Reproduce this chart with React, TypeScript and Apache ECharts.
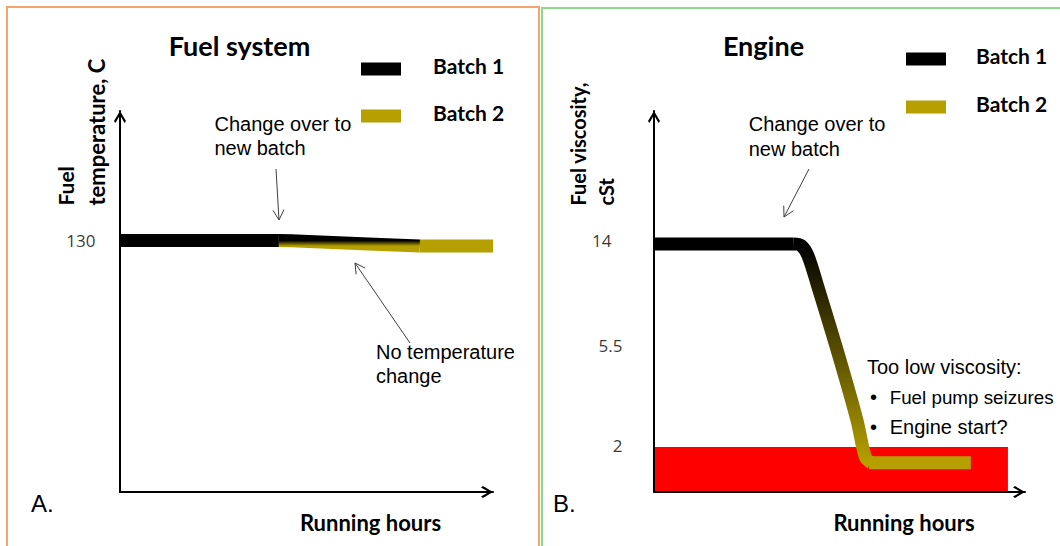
import React, { useEffect, useRef } from "react";
import * as echarts from "echarts";

// ---------- data ----------
// Panel A: fuel temperature (C) vs running hours (schematic 0..100)
const fuelTempTicks = [130];
const fuelTempBatch1 = [[0, 130], [42.6, 130]];
const fuelTempChange = [[42.6, 130], [49, 129.7], [65, 128.3], [80.4, 127.2]];
const fuelTempBatch2 = [[80.4, 127.2], [100, 127.2]];

// Panel B: fuel viscosity (cSt) vs running hours (schematic 0..100)
const viscosityTicks = [14, 5.5, 2];
const viscosityBatch1 = [[0, 14], [37.5, 14]];
const viscosityChange = [
  [37.5, 14], [39.6, 13.8], [41.5, 12.5], [44.2, 9.25], [49.6, 4.92],
  [54.7, 2.59], [56.1, 2.05], [57.1, 1.8], [58.5, 1.72],
];
const viscosityBatch2 = [[57.9, 1.72], [85.4, 1.72]];
const lowViscosityLimit = 2;
const lowViscosityEndHour = 95.4;

const legendNames = ["Batch 1", "Batch 2"];

// ---------- styles ----------
const BLACK = "#000000";
const GOLD = "#B5A000";
const BOLD_FONT = "Lato";
const REG_FONT = "Liberation Sans";
const TICK_FONT = "Open Sans";
const CHEVRON = "path://M50,0 L100,84 L88,100 L50,34 L12,100 L0,84 Z";

const axisBase = {
  axisLine: {
    show: true,
    onZero: false,
    symbol: ["none", CHEVRON],
    symbolSize: [13, 12],
    symbolOffset: [0, -6],
    lineStyle: { color: "#000", width: 2 },
  },
  axisTick: { show: false },
  axisLabel: { show: false },
  splitLine: { show: false },
  z: 10,
};

function txt(text: string, x: number, y: number, o: any = {}) {
  return {
    type: "text",
    x,
    y,
    rotation: o.rotation || 0,
    silent: true,
    style: {
      text,
      fill: "#000",
      fontFamily: o.bold ? BOLD_FONT : REG_FONT,
      fontWeight: o.bold ? "bold" : "normal",
      fontSize: o.size || 20,
      align: o.align || "left",
      verticalAlign: "middle",
      textAlign: o.align || "left",
      textVerticalAlign: "middle",
    },
  };
}

function arrow(x1: number, y1: number, x2: number, y2: number) {
  const dx = x2 - x1;
  const dy = y2 - y1;
  const L = Math.sqrt(dx * dx + dy * dy);
  const ux = dx / L;
  const uy = dy / L;
  const px = -uy;
  const py = ux;
  const h = 10;
  const w = 5.5;
  const stroke = { stroke: "#404040", lineWidth: 1, fill: "none" };
  return [
    { type: "line", silent: true, shape: { x1, y1, x2, y2 }, style: stroke },
    {
      type: "polyline",
      silent: true,
      shape: {
        points: [
          [x2 - h * ux + w * px, y2 - h * uy + w * py],
          [x2, y2],
          [x2 - h * ux - w * px, y2 - h * uy - w * py],
        ],
      },
      style: stroke,
    },
  ];
}

const vGradient = () =>
  new echarts.graphic.LinearGradient(0, 0, 0, 1, [
    { offset: 0, color: BLACK },
    { offset: 1, color: GOLD },
  ]);

function lineSeries(name: string, data: number[][], idx: number, color: any, smooth: any = false) {
  return {
    type: "line",
    name,
    xAxisIndex: idx,
    yAxisIndex: idx,
    data,
    color,
    showSymbol: false,
    symbol: "none",
    smooth,
    clip: false,
    z: 4,
    silent: true,
    lineStyle: { color, width: 13, cap: "butt", join: "round" },
  };
}

export default function App() {
  const ref = useRef<HTMLDivElement>(null);

  useEffect(() => {
    if (!ref.current) return;
    const chart = echarts.init(ref.current, undefined, { renderer: "svg" });

    const legendBase = (left: number, top: number, gap: number, textPad: number) => ({
      data: legendNames.map((n) => ({ name: n, icon: "rect" })),
      orient: "vertical",
      left,
      top,
      padding: 0,
      itemWidth: 40,
      itemHeight: 13,
      itemGap: gap,
      selectedMode: false,
      formatter: (name: string) => "{n|" + name + "}",
      textStyle: {
        fontFamily: BOLD_FONT,
        fontWeight: "bold",
        fontSize: 21,
        color: "#000",
        padding: [0, 0, 0, textPad],
        rich: {
          n: {
            fontFamily: BOLD_FONT,
            fontWeight: "bold",
            fontSize: 21,
            lineHeight: 20,
            color: "#000",
            padding: [0, 0, 8, 0],
          },
        },
      },
    });

    const tickRich = (pad: number[]) => ({
      fontFamily: TICK_FONT,
      fontSize: 17,
      color: "#000",
      padding: pad,
    });

    const option: any = {
      animation: false,
      backgroundColor: "#fff",
      legend: [legendBase(361, 54.5, 18, 27), legendBase(906, 44.5, 19, 25)],
      grid: [
        { left: 120, top: 111, width: 373, height: 381 },
        { left: 654, top: 111, width: 371, height: 381 },
      ],
      xAxis: [
        { ...axisBase, gridIndex: 0, type: "value", min: 0, max: 100 },
        { ...axisBase, gridIndex: 1, type: "value", min: 0, max: 100 },
      ],
      yAxis: [
        { ...axisBase, gridIndex: 0, type: "value", min: 0, max: 197 },
        { ...axisBase, gridIndex: 1, type: "log", logBase: 10, min: 1.3, max: 50 },
      ],
      series: [
        {
          type: "scatter",
          name: "tempTicks",
          xAxisIndex: 0,
          yAxisIndex: 0,
          z: 1,
          silent: true,
          symbolSize: 1,
          itemStyle: { color: "transparent" },
          data: fuelTempTicks.map((v) => [0, v]),
          label: {
            show: true,
            position: "left",
            distance: 24,
            fontFamily: TICK_FONT,
            fontSize: 17,
            color: "#000",
            formatter: (p: any) => String(p.value[1]),
          },
        },
        {
          type: "scatter",
          name: "viscTicks",
          xAxisIndex: 1,
          yAxisIndex: 1,
          z: 1,
          silent: true,
          symbolSize: 1,
          itemStyle: { color: "transparent" },
          data: viscosityTicks.map((v) => [0, v]),
          label: {
            show: true,
            position: "left",
            distance: 31,
            fontFamily: TICK_FONT,
            fontSize: 17,
            color: "#000",
            formatter: (p: any) => "{t" + p.dataIndex + "|" + p.value[1] + "}",
            rich: {
              t0: tickRich([0, 11, 6, 0]),
              t1: tickRich([9, 0, 0, 0]),
              t2: tickRich([0, 0, 3, 0]),
            },
          },
          markArea: {
            silent: true,
            itemStyle: { color: "#FF0000", opacity: 1 },
            data: [[{ coord: [0, 1.3] }, { coord: [lowViscosityEndHour, lowViscosityLimit] }]],
          },
        },
        lineSeries("Batch 1", fuelTempBatch1, 0, BLACK),
        lineSeries("Change A", fuelTempChange, 0, vGradient(), 0.4),
        lineSeries("Batch 2", fuelTempBatch2, 0, GOLD),
        lineSeries("Batch 1", viscosityBatch1, 1, BLACK),
        lineSeries("Change B", viscosityChange, 1, vGradient(), 0.3),
        lineSeries("Batch 2", viscosityBatch2, 1, GOLD),
      ],
      graphic: [
        {
          type: "rect",
          silent: true,
          shape: { x: 7, y: 7, width: 532, height: 600 },
          style: { fill: "none", stroke: "#F5A46C", lineWidth: 2 },
        },
        {
          type: "rect",
          silent: true,
          shape: { x: 542, y: 8, width: 600, height: 600 },
          style: { fill: "none", stroke: "#8FD68C", lineWidth: 2 },
        },
        txt("Fuel system", 239.5, 45, { bold: true, size: 27, align: "center" }),
        txt("Engine", 763.5, 45, { bold: true, size: 27, align: "center" }),
        txt("Fuel", 65.5, 205.6, { bold: true, size: 21, rotation: Math.PI / 2 }),
        txt("temperature, C", 96.5, 205.6, { bold: true, size: 22, rotation: Math.PI / 2 }),
        txt("Fuel viscosity,", 578, 205.6, { bold: true, size: 20, rotation: Math.PI / 2 }),
        txt("cSt", 606, 205.6, { bold: true, size: 20, rotation: Math.PI / 2 }),
        txt("Running hours", 370.5, 522.6, { bold: true, size: 22, align: "center" }),
        txt("Running hours", 904, 522.6, { bold: true, size: 22, align: "center" }),
        txt("A.", 31, 503.5, { size: 24 }),
        txt("B.", 553, 503.5, { size: 24 }),
        txt("Change over to", 214.5, 124.4),
        txt("new batch", 214.5, 148),
        txt("No temperature", 376, 352),
        txt("change", 376, 375.6),
        txt("Change over to", 748.7, 124.4),
        txt("new batch", 748.7, 148.8),
        txt("Too low viscosity:", 867, 366.5),
        txt("•", 870, 397),
        txt("Fuel pump seizures", 889.7, 397, { size: 18.8 }),
        txt("•", 870, 426.8),
        txt("Engine start?", 889.7, 426.8),
        ...arrow(276, 169, 279, 220),
        ...arrow(410, 343, 355, 263),
        ...arrow(809, 169, 784, 217),
      ],
    };

    chart.setOption(option);
    return () => chart.dispose();
  }, []);

  return (
    <div
      ref={ref}
      style={{ position: "fixed", left: 0, top: 0, width: 1060, height: 546, background: "#fff" }}
    />
  );
}
